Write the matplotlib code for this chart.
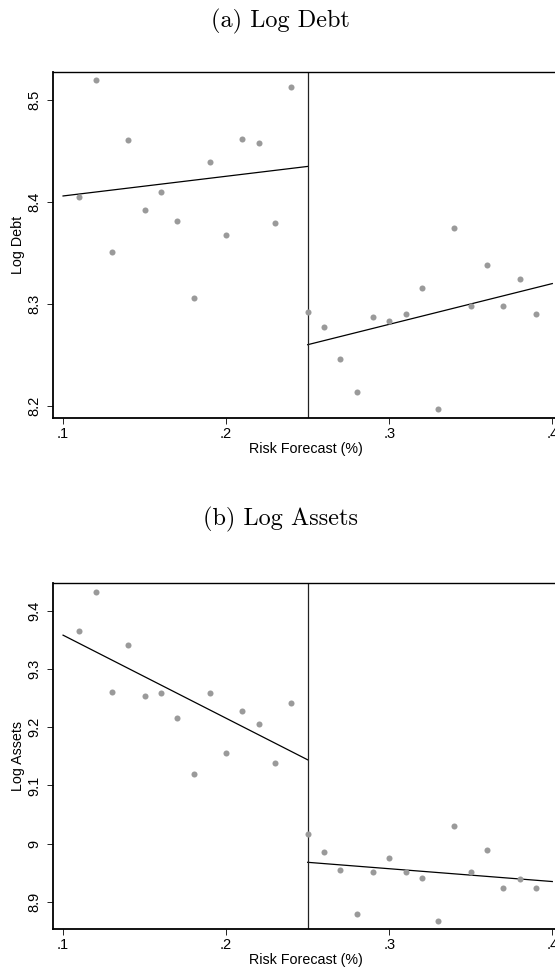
import matplotlib.pyplot as plt
import numpy as np

# binned scatter data (risk forecast bins)
x_bins = [.11, .12, .13, .14, .15, .16, .17, .18, .19, .20, .21, .22, .23, .24,
          .25, .26, .27, .28, .29, .30, .31, .32, .33, .34, .35, .36, .37, .38, .39]

log_debt = [8.405, 8.520, 8.351, 8.461, 8.392, 8.410, 8.381, 8.306, 8.439, 8.368,
            8.462, 8.458, 8.379, 8.513,
            8.292, 8.277, 8.246, 8.214, 8.287, 8.283, 8.290, 8.316, 8.197, 8.375,
            8.298, 8.338, 8.298, 8.324, 8.290]

log_assets = [9.366, 9.432, 9.261, 9.341, 9.254, 9.259, 9.215, 9.120, 9.259, 9.155,
              9.227, 9.205, 9.139, 9.242,
              9.017, 8.985, 8.954, 8.880, 8.952, 8.975, 8.951, 8.941, 8.868, 9.031,
              8.951, 8.990, 8.924, 8.940, 8.924]

# fitted lines (endpoints) on each side of the cutoff
cutoff = .25
fit_x_left = [.10, .25]
fit_x_right = [.25, .40]
debt_fit_left = [8.406, 8.435]
debt_fit_right = [8.260, 8.320]
assets_fit_left = [9.358, 9.144]
assets_fit_right = [8.968, 8.935]

x_ticks = [.1, .2, .3, .4]
x_ticklabels = ['.1', '.2', '.3', '.4']
debt_ticks = [8.2, 8.3, 8.4, 8.5]
debt_ticklabels = ['8.2', '8.3', '8.4', '8.5']
assets_ticks = [8.9, 9.0, 9.1, 9.2, 9.3, 9.4]
assets_ticklabels = ['8.9', '9', '9.1', '9.2', '9.3', '9.4']

plt.rcParams['font.family'] = ['Liberation Sans', 'DejaVu Sans']

fig = plt.figure(figsize=(5.55, 9.74), dpi=100)

panels = [
    ('(a) Log Debt', 'Log Debt', log_debt, debt_fit_left, debt_fit_right,
     debt_ticks, debt_ticklabels, (8.188, 8.528), [0.096, 0.5708, 0.910, 0.3556], 0.978),
    ('(b) Log Assets', 'Log Assets', log_assets, assets_fit_left, assets_fit_right,
     assets_ticks, assets_ticklabels, (8.853, 9.447), [0.096, 0.0459, 0.910, 0.3552], 0.467),
]

for title, ylab, yvals, fl, fr, yt, ytl, ylim, rect, ty in panels:
    ax = fig.add_axes(rect)
    ax.scatter(x_bins, yvals, s=19, color='#9a9a9a', linewidths=0, zorder=3)
    ax.plot(fit_x_left, fl, color='black', lw=0.9)
    ax.plot(fit_x_right, fr, color='black', lw=0.9)
    ax.axvline(cutoff, color='#222222', lw=0.9)
    ax.set_xlim(.094, .4037)
    ax.set_ylim(*ylim)
    ax.set_xticks(x_ticks)
    ax.set_xticklabels(x_ticklabels, fontsize=10.5)
    ax.set_yticks(yt)
    ax.set_yticklabels(ytl, fontsize=10.5, rotation=90, va='center')
    ax.tick_params(direction='out', length=4, width=0.7, color='#222222')
    ax.tick_params(axis='x', pad=2.5)
    ax.tick_params(axis='y', pad=4.5)
    ax.spines['right'].set_visible(False)
    for s in ['left', 'bottom']:
        ax.spines[s].set_linewidth(1.3)
    ax.spines['top'].set_linewidth(1.0)
    ax.set_xlabel('Risk Forecast (%)', fontsize=10.3, labelpad=0.5)
    ax.set_ylabel(ylab, fontsize=10.3, labelpad=2)
    fig.text(0.505, ty, title, ha='center', va='center', fontsize=17.5, family='cmr10')

fig.savefig('out.png', dpi=100)
